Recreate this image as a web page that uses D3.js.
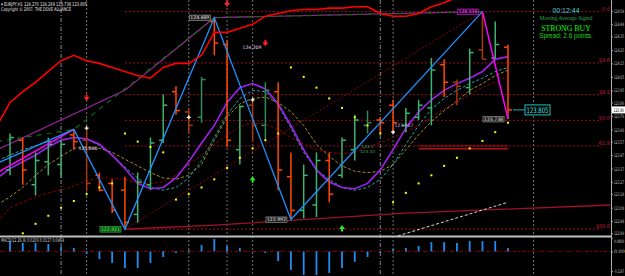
<!DOCTYPE html>
<html>
<head>
<meta charset="utf-8">
<script src="https://cdn.jsdelivr.net/npm/d3@7"></script>
<style>
  body { margin: 0; background: #000; }
  svg { display: block; }
  .axis text { fill: #c8c8c8; font-family: "DejaVu Sans", sans-serif; font-size: 4.8px; }
  .axis path, .axis line { stroke: #a8a8a8; }
</style>
</head>
<body>
<div id="chart"></div>
<script>
// EURJPY H1 bars, index 0..39
const barOpen  = [123.36,123.58,123.25,123.42,123.40,123.62,123.58,123.32,123.26,123.21,123.03,123.25,123.58,123.94,123.79,123.75,124.46,124.29,123.51,123.84,123.69,123.94,123.31,123.06,123.10,123.43,123.32,123.51,123.69,123.73,123.84,123.69,123.75,123.82,124.14,124.01,123.97,124.25,124.19,124.27];
const barHigh  = [123.63,123.60,123.49,123.60,123.58,123.66,123.67,123.34,123.29,123.31,123.34,123.60,123.92,123.98,123.82,124.05,124.489,124.32,123.84,123.88,124.01,124.01,123.49,123.40,123.49,123.49,123.60,123.77,123.80,123.75,123.88,123.82,123.88,124.19,124.18,124.03,124.26,124.534,124.46,124.289];
const barLow   = [123.32,123.25,123.17,123.32,123.30,123.51,123.20,123.20,123.04,122.921,122.97,123.21,123.56,123.77,123.63,123.71,124.21,123.53,123.40,123.57,123.58,123.21,122.992,123.00,123.01,123.12,123.30,123.43,123.63,123.63,123.63,123.64,123.73,123.69,123.90,123.84,123.92,124.18,124.18,123.738];
const barClose = [123.60,123.36,123.43,123.55,123.55,123.57,123.26,123.21,123.06,122.97,123.27,123.56,123.84,123.80,123.69,124.03,124.30,123.58,123.83,123.69,123.95,123.36,123.06,123.32,123.43,123.18,123.58,123.73,123.71,123.71,123.71,123.78,123.84,124.10,124.01,123.98,124.23,124.18,124.29,123.805];
const dimBars  = [6, 14, 15, 19, 20, 28, 35, 37];

// indicator lines, first value sits at bar index -1
const seriesStart = -1;
const redBand  = [123.69,123.86,123.94,124.01,124.09,124.17,124.21,124.17,124.15,124.12,124.09,124.06,124.04,124.12,124.15,124.15,124.21,124.38,124.38,124.41,124.44,124.50,124.52,124.54,124.55,124.55,124.56,124.56,124.57,124.57,124.52,124.50,124.50,124.52,124.57,124.60,124.64,124.69,124.73,124.75,124.76];
const violetMa = [123.30,123.37,123.42,123.47,123.53,123.58,123.60,123.59,123.55,123.47,123.37,123.26,123.22,123.23,123.30,123.42,123.56,123.69,123.86,123.97,124.00,123.96,123.85,123.69,123.51,123.36,123.27,123.23,123.22,123.26,123.36,123.51,123.67,123.79,123.88,123.95,124.00,124.04,124.09,124.18,124.20];
const tealMa   = [123.43,123.47,123.51,123.54,123.57,123.58,123.60,123.59,123.54,123.47,123.38,123.30,123.23,123.21,123.23,123.30,123.43,123.60,123.77,123.89,123.95,123.94,123.84,123.67,123.49,123.36,123.29,123.23,123.21,123.23,123.29,123.40,123.55,123.69,123.81,123.89,123.95,124.00,124.04,124.09,124.12];
const oliveMa  = [123.10,123.16,123.23,123.32,123.40,123.46,123.52,123.53,123.52,123.49,123.44,123.39,123.34,123.30,123.29,123.32,123.40,123.58,123.75,123.85,123.89,123.90,123.86,123.79,123.69,123.55,123.46,123.39,123.35,123.34,123.35,123.40,123.51,123.62,123.72,123.80,123.87,123.95,124.00,124.06,124.10];
const slowMa   = [122.97,123.08,123.12,123.16,123.19,123.21,123.24,123.28,123.30,123.30,123.29,123.26,123.26,123.27,123.32,123.40,123.47,123.55,123.62,123.68,123.71,123.70,123.66,123.60,123.55,123.51,123.49,123.48,123.49,123.53,123.56,123.60,123.64,123.69,123.75,123.81,123.86,123.92,123.97,124.01,124.06];

// parabolic SAR dots, first value at bar 1
const sarStart = 1;
const sarValues = [122.89,122.96,123.02,123.08,123.13,123.18,123.23,123.26,123.63,123.57,123.53,123.49,123.14,123.18,123.23,123.29,123.375,123.45,123.52,123.58,123.63,124.12,124.05,123.97,123.89,123.82,123.75,123.69,123.63,123.12,123.19,123.26,123.32,123.39,123.45,123.52,123.575,123.64,123.71];

// [bar index, price] pairs
const zigzagPoints = [[-1, 123.41], [5, 123.66], [9, 122.921], [16, 124.489], [22, 122.992], [37, 124.534]];
const lastLeg      = [[37, 124.534], [39, 123.738]];
const magentaLeg   = [[-1, 123.34], [5, 123.66]];
const purpleLine   = [[-1, 123.51], [9, 123.95], [16, 124.489], [37, 124.534]];
const greenLine    = [[-1, 123.57], [5, 123.66], [16, 124.489], [37, 124.534]];
const lowerBand    = [[9, 122.92], [16, 122.95], [31, 123.04], [47, 123.10]];
const whiteDash    = [[30, 122.86], [39, 123.12]];
const stopLevels   = [123.538, 123.516];
const stopFrom = 32, stopTo = 39;

// fibonacci retracement
const fibLow = 122.921, fibHigh = 124.534, fibStart = 9, fibHighIdx = 37;
const fibLevels = [0, 23.6, 38.2, 50, 61.8, 100];

const pivotLabels = [[9, 122.921], [16, 124.489], [22, 122.992], [37, 124.534], [39, 123.738]];
const noteLabels  = [[18.95, 124.27, '124.209'], [6.1, 123.52, '123.660'], [30.85, 123.69, '123.907']];
const greenNotes  = [[28, 123.535, '123.1'], [28, 123.495, '123.33']];

const sellArrows = [[6, 123.894], [17, 124.59], [20, 124.30]];
const buyArrows  = [[19, 123.29], [26, 122.93]];
const markers    = [[6, 123.67], [14, 123.75], [19, 123.88], [30, 123.64]];

const dayBreaks = [4, 29];
const signalBreaks = [6, 14, 17, 19, 30, 41];

const priceTicks = [124.54,124.44,124.35,124.25,124.15,124.05,123.95,123.86,123.76,123.66,123.57,123.47,123.37,123.27,123.18,123.08,122.98,122.89];
const lastPrice = 123.805;

// MACD histogram, bars 0..39
const macdHist = [0.061,0.050,0.050,0.044,0.026,0.020,-0.015,-0.045,-0.068,-0.098,-0.098,-0.068,-0.033,-0.009,0.008,0.038,0.073,0.032,0.020,0.002,-0.009,-0.057,-0.109,-0.139,-0.139,-0.127,-0.098,-0.062,-0.033,-0.009,0.014,0.020,0.032,0.055,0.055,0.050,0.061,0.061,0.061,0.020];
const macdTicks = [0.0809, 0, -0.1167];

const headerText = '\u25BE EURJPY,H1  124.270 124.289 123.738 123.805';
const copyrightText = 'Copyright \u00A9 2007, THE DOVE ALLIANCE';
const macdText = 'MACD(12,26,9) 0.0203 0.0117 0.0459';
const signalText = ['00:12:44', 'Moving Average Signal', 'STRONG BUY', 'Spread: 2.6 points.'];

class TerminalChart {

  constructor(_config) {
    this.config = {
      parentElement: _config.parentElement,
      containerWidth: 625,
      containerHeight: 276,
      plotRight: 611,
      priceBottom: 236,
      macdTop: 237,
      tick: 4,
      pivotStyles: {
        9: {fill: '#0b4d12', stroke: '#2fbf3f', text: '#6cff6c'},
        37: {fill: '#300030', stroke: '#d020d0', text: '#ff60ff'},
        default: {fill: '#202020', stroke: '#a0a0a0', text: '#e0e0e0'}
      }
    };
    this.initVis();
  }

  initVis() {
    let vis = this;
    const c = vis.config;

    vis.svg = d3.select(c.parentElement).append('svg')
        .attr('width', c.containerWidth)
        .attr('height', c.containerHeight)
        .style('background', '#000');

    vis.xScale = d3.scaleLinear().domain([0, 39]).range([10, 508]);
    vis.yScale = d3.scaleLinear().domain([122.87, 124.62]).range([c.priceBottom, 0]);
    vis.macdScale = d3.scaleLinear().domain([-0.145, 0.085]).range([c.containerHeight, c.macdTop]);

    const defs = vis.svg.append('defs');
    defs.append('clipPath').attr('id', 'price-clip').append('rect')
        .attr('x', 0).attr('y', 0).attr('width', c.plotRight).attr('height', c.priceBottom);
    defs.append('clipPath').attr('id', 'macd-clip').append('rect')
        .attr('x', 0).attr('y', c.macdTop).attr('width', c.plotRight).attr('height', c.containerHeight - c.macdTop);

    vis.gridG = vis.svg.append('g');
    vis.priceG = vis.svg.append('g').attr('clip-path', 'url(#price-clip)');
    vis.macdG = vis.svg.append('g').attr('clip-path', 'url(#macd-clip)');

    vis.renderVis();
  }

  renderVis() {
    let vis = this;
    vis.renderGrid();
    vis.renderIndicators();
    vis.renderBars();
    vis.renderSignals();
    vis.renderMacd();
    vis.renderAxes();
    vis.renderTexts();
  }

  renderGrid() {
    let vis = this;
    const c = vis.config;

    vis.gridG.selectAll('.day').data(dayBreaks).join('line')
        .attr('class', 'day')
        .attr('x1', d => vis.xScale(d)).attr('x2', d => vis.xScale(d))
        .attr('y1', 0).attr('y2', c.containerHeight)
        .attr('stroke', '#8c8492').attr('stroke-dasharray', '4,2,1,2');

    vis.gridG.selectAll('.sig').data(signalBreaks).join('line')
        .attr('class', 'sig')
        .attr('x1', d => vis.xScale(d)).attr('x2', d => vis.xScale(d))
        .attr('y1', 0).attr('y2', c.containerHeight)
        .attr('stroke', '#707070').attr('stroke-dasharray', '2,2');

    // fibonacci levels
    const range = fibHigh - fibLow;
    const levels = fibLevels.map(l => ({level: l, price: fibHigh - range * l / 100}));
    vis.priceG.selectAll('.fib').data(levels).join('line')
        .attr('class', 'fib')
        .attr('x1', vis.xScale(fibStart)).attr('x2', c.plotRight - 9)
        .attr('y1', d => vis.yScale(d.price)).attr('y2', d => vis.yScale(d.price))
        .attr('stroke', '#9a0c20').attr('stroke-dasharray', '2,2');
    vis.svg.selectAll('.fib-label').data(levels).join('text')
        .attr('class', 'fib-label')
        .attr('x', c.plotRight - 1).attr('y', d => vis.yScale(d.price) - 0.8)
        .attr('text-anchor', 'end')
        .attr('font-family', 'DejaVu Sans, sans-serif').attr('font-size', 5)
        .attr('fill', '#d0183c')
        .text(d => d3.format('.1f')(d.level));

    const pairLine = d3.line().x(d => vis.xScale(d[0])).y(d => vis.yScale(d[1]));
    vis.priceG.append('path')
        .attr('d', pairLine([[fibStart, fibLow], [fibHighIdx, fibHigh]]))
        .attr('fill', 'none').attr('stroke', '#8b0010').attr('stroke-dasharray', '2,2');
  }

  renderIndicators() {
    let vis = this;
    const seriesLine = d3.line()
        .x((d, i) => vis.xScale(i + seriesStart))
        .y(d => vis.yScale(d));
    const pairLine = d3.line().x(d => vis.xScale(d[0])).y(d => vis.yScale(d[1]));

    const draw = (d, stroke, width, dash) => vis.priceG.append('path')
        .attr('d', d).attr('fill', 'none')
        .attr('stroke', stroke).attr('stroke-width', width)
        .attr('stroke-dasharray', dash || null);

    draw(seriesLine(slowMa), '#8b0000', 1, '3,2');
    draw(seriesLine(oliveMa), '#a39224', 1, '3,2');
    draw(seriesLine(tealMa), '#1fa6a6', 1, '3,2');
    draw(pairLine(lowerBand), '#a0102a', 1.3);
    draw(pairLine(whiteDash), '#d8d8d8', 1, '3,2');
    draw(pairLine(purpleLine), '#a020a0', 1.2);
    draw(pairLine(greenLine), '#0b6a0b', 1.2, '5,5');
    draw(seriesLine(violetMa), '#a020f0', 1.6);

    stopLevels.forEach((p, i) => {
      vis.priceG.append('line')
          .attr('x1', vis.xScale(stopFrom)).attr('x2', vis.xScale(stopTo))
          .attr('y1', vis.yScale(p)).attr('y2', vis.yScale(p))
          .attr('stroke', i === 0 ? '#c00000' : '#ff2020').attr('stroke-width', 1);
    });
  }

  renderBars() {
    let vis = this;
    const t = vis.config.tick;
    const bars = barOpen.map((o, i) => ({
      i, o, h: barHigh[i], l: barLow[i], c: barClose[i], dim: dimBars.includes(i)
    }));
    const colour = d => d.c >= d.o ? (d.dim ? '#2e8b57' : '#3cb371') : (d.dim ? '#a8380e' : '#ff4800');

    const g = vis.priceG.append('g').selectAll('g').data(bars).join('g')
        .attr('stroke', colour).attr('stroke-width', 1.5);
    g.append('line')
        .attr('x1', d => vis.xScale(d.i)).attr('x2', d => vis.xScale(d.i))
        .attr('y1', d => vis.yScale(d.h)).attr('y2', d => vis.yScale(d.l));
    g.append('line')
        .attr('x1', d => vis.xScale(d.i) - t).attr('x2', d => vis.xScale(d.i))
        .attr('y1', d => vis.yScale(d.o)).attr('y2', d => vis.yScale(d.o));
    g.append('line')
        .attr('x1', d => vis.xScale(d.i)).attr('x2', d => vis.xScale(d.i) + t)
        .attr('y1', d => vis.yScale(d.c)).attr('y2', d => vis.yScale(d.c));
  }

  renderSignals() {
    let vis = this;
    const c = vis.config;
    const seriesLine = d3.line()
        .x((d, i) => vis.xScale(i + seriesStart))
        .y(d => vis.yScale(d));
    const pairLine = d3.line().x(d => vis.xScale(d[0])).y(d => vis.yScale(d[1]));

    vis.priceG.append('path').attr('d', pairLine(magentaLeg))
        .attr('fill', 'none').attr('stroke', '#ff00ff').attr('stroke-width', 1.5);
    vis.priceG.append('path').attr('d', pairLine(zigzagPoints))
        .attr('fill', 'none').attr('stroke', '#1e90ff').attr('stroke-width', 1.3);
    vis.priceG.append('path').attr('d', pairLine(lastLeg))
        .attr('fill', 'none').attr('stroke', '#ff00ff').attr('stroke-width', 1.5);
    vis.priceG.append('path').attr('d', seriesLine(redBand))
        .attr('fill', 'none').attr('stroke', '#ff0000').attr('stroke-width', 1.6);

    // SAR dots
    vis.priceG.selectAll('.sar').data(sarValues).join('rect')
        .attr('class', 'sar')
        .attr('x', (d, i) => vis.xScale(i + sarStart) - 1)
        .attr('y', d => vis.yScale(d) - 1)
        .attr('width', 2).attr('height', 2)
        .attr('fill', '#ffff00');

    vis.priceG.selectAll('.sell').data(sellArrows).join('path')
        .attr('class', 'sell')
        .attr('transform', d => `translate(${vis.xScale(d[0])},${vis.yScale(d[1])})`)
        .attr('d', 'M-1,-3.5h2v2.5h2l-3,4l-3,-4h2z')
        .attr('fill', '#ff2020');
    vis.priceG.selectAll('.buy').data(buyArrows).join('path')
        .attr('class', 'buy')
        .attr('transform', d => `translate(${vis.xScale(d[0])},${vis.yScale(d[1])})`)
        .attr('d', 'M-1,3.5h2v-2.5h2l-3,-4l-3,4h2z')
        .attr('fill', '#30e030');
    vis.priceG.selectAll('.mark').data(markers).join('path')
        .attr('class', 'mark')
        .attr('transform', d => `translate(${vis.xScale(d[0])},${vis.yScale(d[1])})`)
        .attr('d', 'M-2,0h4M0,-2v4')
        .attr('stroke', '#ffffff').attr('stroke-width', 1.2);

    // pivot price boxes
    const lg = vis.priceG.append('g');
    pivotLabels.forEach(([idx, price]) => {
      const st = c.pivotStyles[idx] || c.pivotStyles.default;
      const t = lg.append('text')
          .attr('x', vis.xScale(idx) - 5).attr('y', vis.yScale(price) + 1.7)
          .attr('text-anchor', 'end')
          .attr('font-family', 'DejaVu Sans, sans-serif').attr('font-size', 4.6)
          .attr('fill', st.text)
          .text(d3.format('.3f')(price));
      const bb = t.node().getBBox();
      lg.insert('rect', () => t.node())
          .attr('x', bb.x - 1).attr('y', bb.y - 0.3)
          .attr('width', bb.width + 2).attr('height', bb.height + 0.6)
          .attr('fill', st.fill).attr('stroke', st.stroke).attr('stroke-width', 0.6);
    });

    vis.priceG.selectAll('.note').data(noteLabels).join('text')
        .attr('class', 'note')
        .attr('x', d => vis.xScale(d[0])).attr('y', d => vis.yScale(d[1]) + 1.6)
        .attr('text-anchor', 'middle')
        .attr('font-family', 'DejaVu Sans, sans-serif').attr('font-size', 4.6)
        .attr('fill', (d, i) => i === 2 ? '#d8a0ff' : '#f0d8f0')
        .text(d => d[2]);
    vis.priceG.selectAll('.gnote').data(greenNotes).join('text')
        .attr('class', 'gnote')
        .attr('x', d => vis.xScale(d[0])).attr('y', d => vis.yScale(d[1]) + 1.6)
        .attr('text-anchor', 'middle')
        .attr('font-family', 'DejaVu Sans, sans-serif').attr('font-size', 4.2)
        .attr('fill', '#2fbf5f')
        .text(d => d[2]);

    // current price tag
    const lx = vis.xScale(39), ly = vis.yScale(lastPrice);
    vis.priceG.append('line')
        .attr('x1', lx + 5).attr('x2', lx + 17).attr('y1', ly).attr('y2', ly)
        .attr('stroke', '#20b0b0');
    vis.priceG.append('rect')
        .attr('x', lx + 17).attr('y', ly - 5).attr('width', 25).attr('height', 10)
        .attr('fill', '#000').attr('stroke', '#20c0c0').attr('stroke-width', 1);
    vis.priceG.append('text')
        .attr('x', lx + 29.5).attr('y', ly + 3)
        .attr('text-anchor', 'middle')
        .attr('font-family', 'DejaVu Sans, sans-serif').attr('font-size', 7.5)
        .attr('textLength', 22).attr('lengthAdjust', 'spacingAndGlyphs')
        .attr('fill', '#40e0e0')
        .text(d3.format('.3f')(lastPrice));
  }

  renderMacd() {
    let vis = this;
    const c = vis.config;
    vis.macdG.append('line')
        .attr('x1', 0).attr('x2', c.plotRight)
        .attr('y1', vis.macdScale(0)).attr('y2', vis.macdScale(0))
        .attr('stroke', '#8b0000').attr('stroke-dasharray', '4,2,1,2');
    vis.macdG.selectAll('.hist').data(macdHist).join('rect')
        .attr('class', 'hist')
        .attr('x', (d, i) => vis.xScale(i) - 0.9)
        .attr('width', 1.8)
        .attr('y', d => vis.macdScale(Math.max(0, d)))
        .attr('height', d => Math.abs(vis.macdScale(d) - vis.macdScale(0)))
        .attr('fill', '#1e8cf0');
  }

  renderAxes() {
    let vis = this;
    const c = vis.config;
    const labelRoom = c.containerWidth - c.plotRight - 4;

    vis.svg.append('line')
        .attr('x1', 0).attr('x2', c.plotRight)
        .attr('y1', c.priceBottom + 0.5).attr('y2', c.priceBottom + 0.5)
        .attr('stroke', '#c0c0c0').attr('stroke-width', 2);

    vis.svg.append('line')
        .attr('x1', c.plotRight + 0.5).attr('x2', c.plotRight + 0.5)
        .attr('y1', 0).attr('y2', c.containerHeight)
        .attr('stroke', '#b0b0b0');

    // the scale column is narrow, so labels are squeezed to fit it
    vis.svg.append('g').attr('class', 'axis')
        .attr('transform', `translate(${c.plotRight},0)`)
        .call(d3.axisRight(vis.yScale).tickValues(priceTicks)
          .tickSize(2).tickSizeOuter(0).tickPadding(1).tickFormat(d3.format('.2f')))
        .call(g => g.select('.domain').remove())
        .call(g => g.selectAll('.tick text')
          .attr('textLength', labelRoom).attr('lengthAdjust', 'spacingAndGlyphs'));

    // MetaTrader keeps the panel maximum label inside the subwindow
    vis.svg.append('g').attr('class', 'axis')
        .attr('transform', `translate(${c.plotRight},0)`)
        .call(d3.axisRight(vis.macdScale).tickValues(macdTicks)
          .tickSize(2).tickSizeOuter(0).tickPadding(1)
          .tickFormat(d => d === 0 ? '0.00' : d.toFixed(4)))
        .call(g => g.select('.domain').remove())
        .call(g => g.selectAll('.tick text')
          .attr('textLength', d => d === 0 ? null : labelRoom)
          .attr('lengthAdjust', 'spacingAndGlyphs'))
        .call(g => g.selectAll('.tick text').filter(d => d > 0).attr('dy', '0.95em'));

    // last price highlight on the scale
    const ly = vis.yScale(lastPrice);
    vis.svg.append('rect')
        .attr('x', c.plotRight + 1).attr('y', ly - 3.5)
        .attr('width', c.containerWidth - c.plotRight).attr('height', 7)
        .attr('fill', '#ffffff');
    vis.svg.append('text')
        .attr('x', c.plotRight + 2.5).attr('y', ly + 1.8)
        .attr('font-family', 'DejaVu Sans, sans-serif').attr('font-size', 4.8)
        .attr('textLength', labelRoom + 0.5).attr('lengthAdjust', 'spacingAndGlyphs')
        .attr('fill', '#000')
        .text(d3.format('.2f')(Math.floor(lastPrice * 100) / 100));
  }

  renderTexts() {
    let vis = this;
    const font = 'DejaVu Sans, sans-serif';

    vis.svg.append('text').attr('x', 1).attr('y', 5.5)
        .attr('font-family', font).attr('font-size', 5)
        .attr('textLength', 86).attr('lengthAdjust', 'spacingAndGlyphs')
        .attr('fill', '#e8e8e8').text(headerText);
    vis.svg.append('text').attr('x', 1).attr('y', 10.5)
        .attr('font-family', font).attr('font-size', 5)
        .attr('textLength', 70).attr('lengthAdjust', 'spacingAndGlyphs')
        .attr('fill', '#e8e8e8').text(copyrightText);
    vis.svg.append('text').attr('x', 1).attr('y', 242)
        .attr('font-family', font).attr('font-size', 5)
        .attr('textLength', 63).attr('lengthAdjust', 'spacingAndGlyphs')
        .attr('fill', '#d8d8d8').text(macdText);

    const cx = 566;
    const styles = [
      {y: 13, size: 7, fam: 'Liberation Sans, sans-serif', fill: '#3cd8d8'},
      {y: 20, size: 5.6, fam: 'Liberation Serif, serif', fill: '#2ea84a'},
      {y: 30.5, size: 7.8, fam: 'Liberation Serif, serif', fill: '#00ff00'},
      {y: 38, size: 6.4, fam: 'Liberation Sans, sans-serif', fill: '#1ed41e'}
    ];
    vis.svg.selectAll('.sigtext').data(signalText).join('text')
        .attr('class', 'sigtext')
        .attr('x', cx).attr('y', (d, i) => styles[i].y)
        .attr('text-anchor', 'middle')
        .attr('font-family', (d, i) => styles[i].fam)
        .attr('font-size', (d, i) => styles[i].size)
        .attr('fill', (d, i) => styles[i].fill)
        .text(d => d);
  }
}

new TerminalChart({parentElement: '#chart'});
</script>
</body>
</html>
